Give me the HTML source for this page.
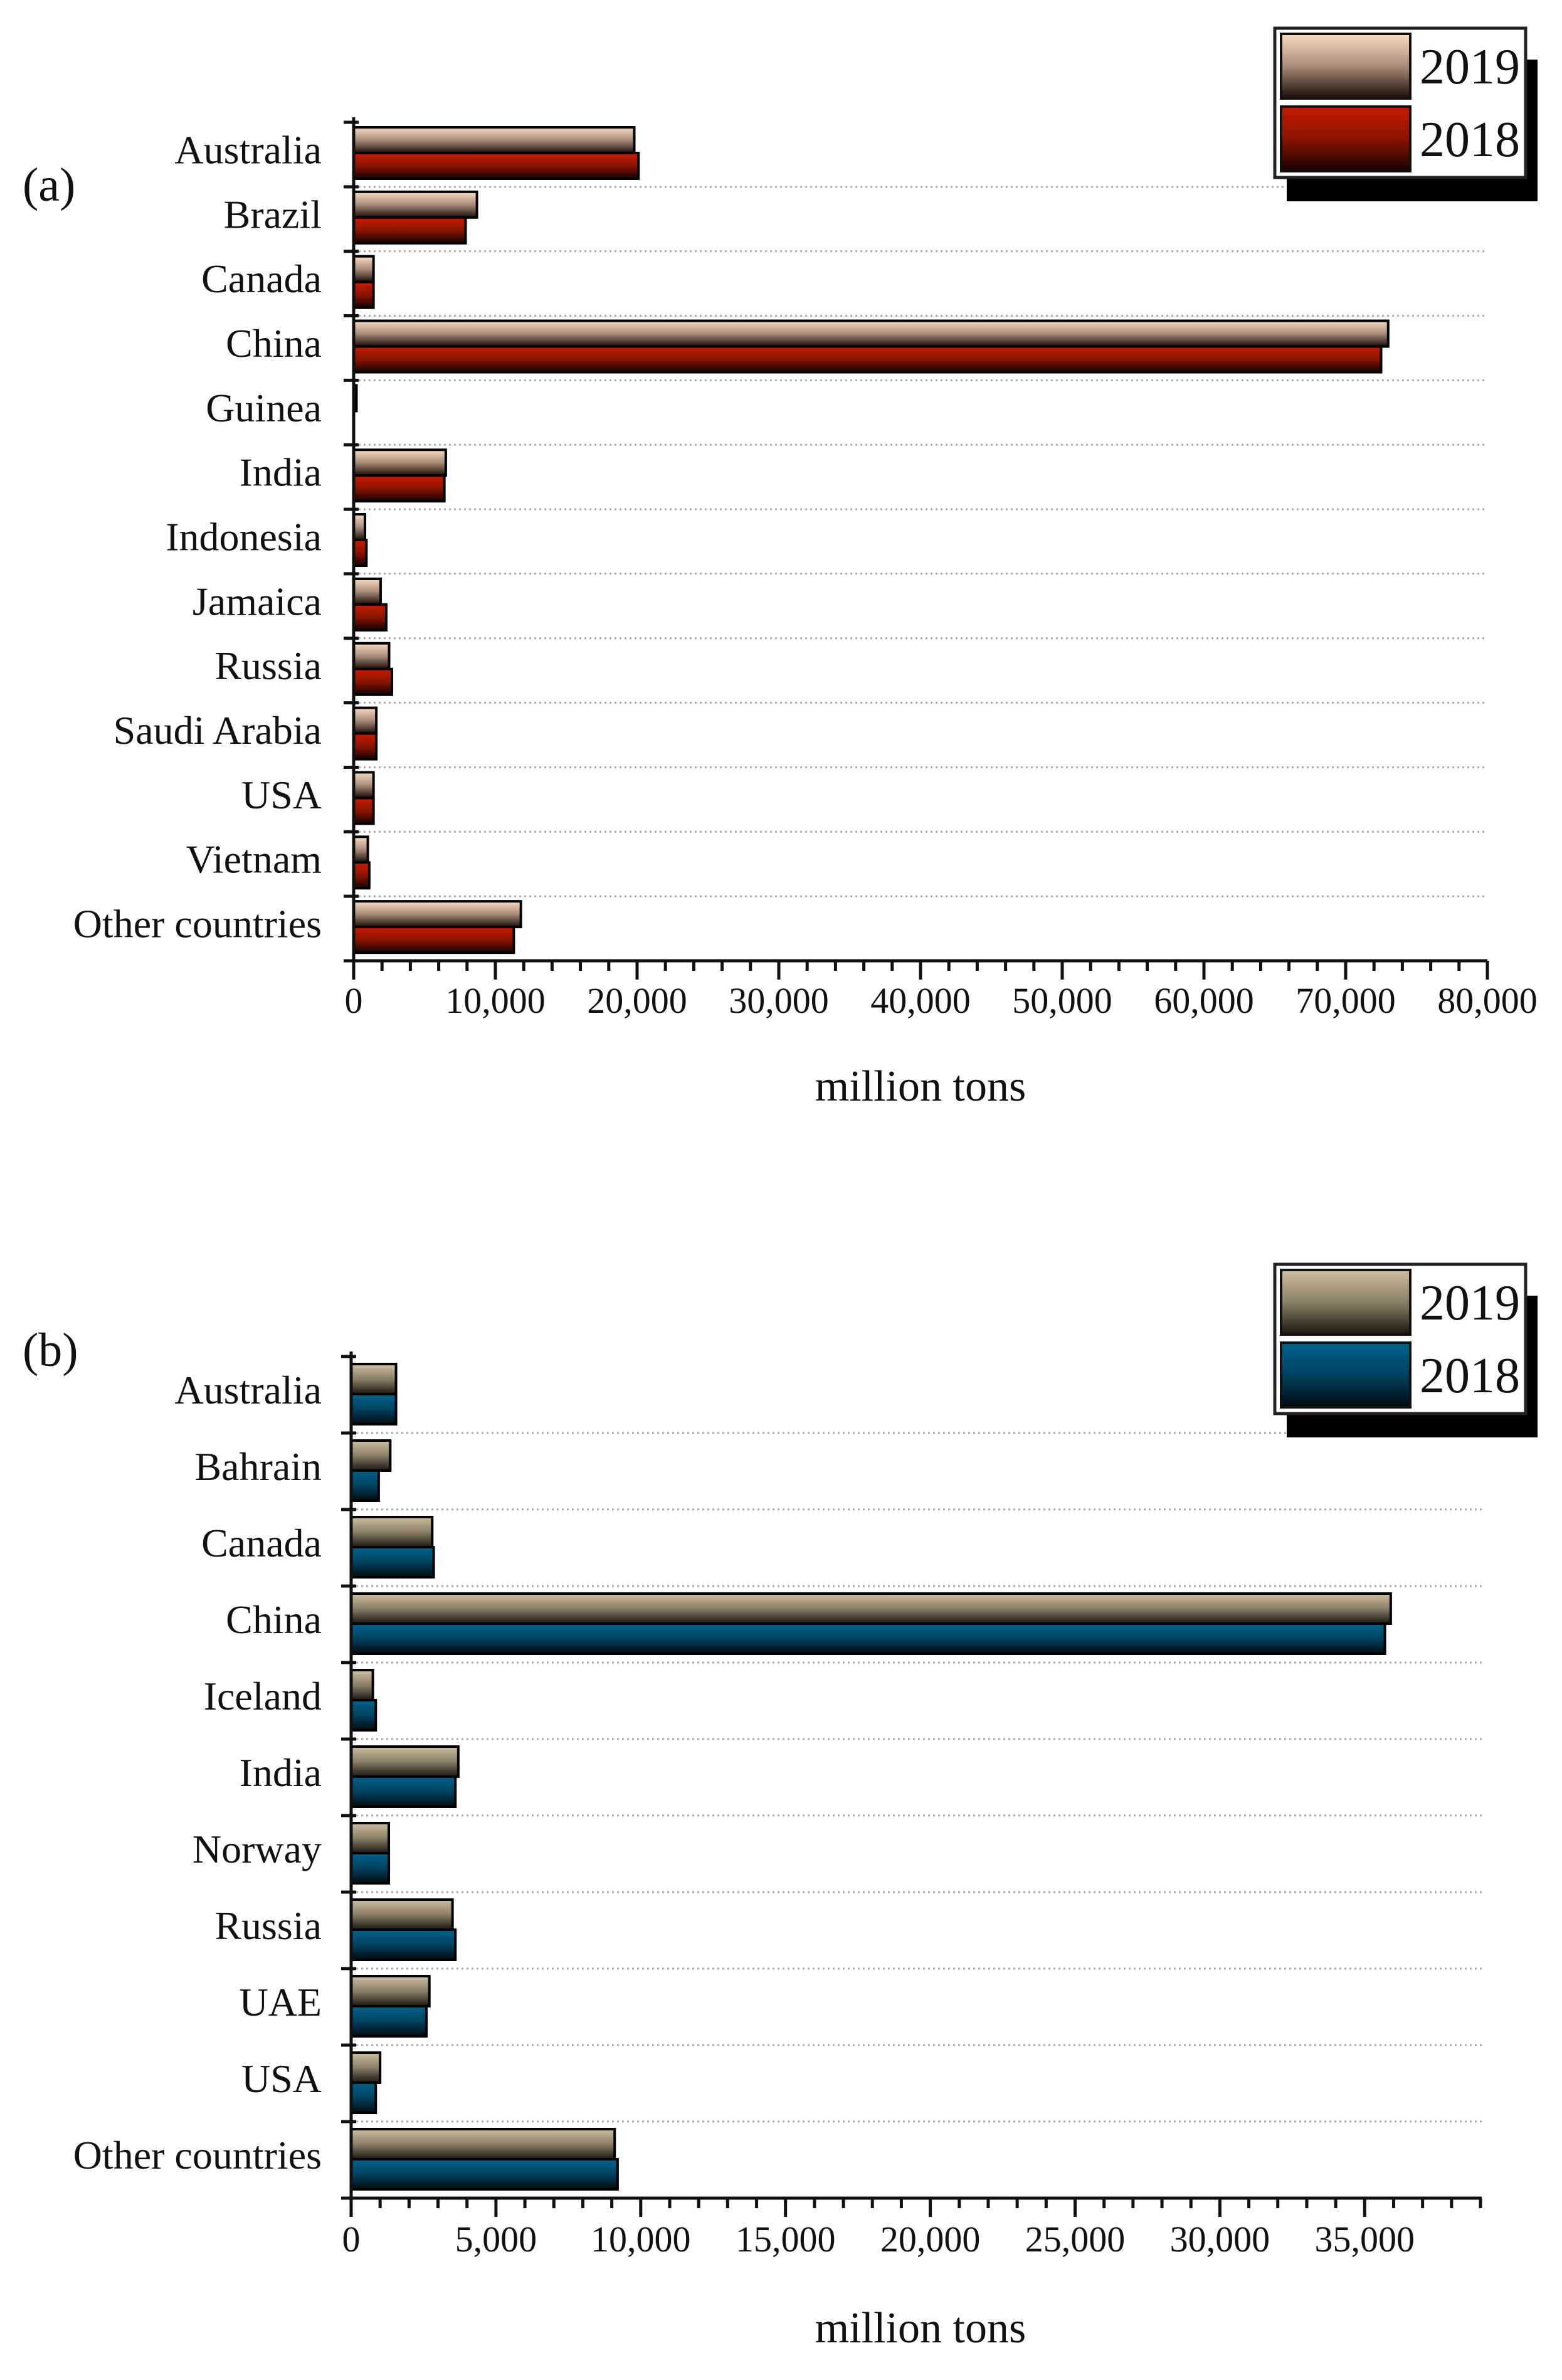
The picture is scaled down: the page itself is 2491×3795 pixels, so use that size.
<!DOCTYPE html>
<html><head><meta charset="utf-8">
<style>
html,body{margin:0;padding:0;background:#fff;}
svg{display:block;}
text{font-family:"Liberation Serif",serif;fill:#111;}
</style></head>
<body>
<svg id="chart" width="2491" height="3795" viewBox="0 0 2491 3795" xmlns="http://www.w3.org/2000/svg">
<defs>
<linearGradient id="gA19" x1="0" y1="0" x2="0" y2="1"><stop offset="0" stop-color="#fadbc2"/><stop offset="0.5" stop-color="#a88c7a"/><stop offset="1" stop-color="#1a0c06"/></linearGradient>
<linearGradient id="gA18" x1="0" y1="0" x2="0" y2="1"><stop offset="0" stop-color="#c81c00"/><stop offset="0.5" stop-color="#8a1400"/><stop offset="1" stop-color="#160200"/></linearGradient>
<linearGradient id="gB19" x1="0" y1="0" x2="0" y2="1"><stop offset="0" stop-color="#cdbf9f"/><stop offset="0.5" stop-color="#8a7e68"/><stop offset="1" stop-color="#1c160e"/></linearGradient>
<linearGradient id="gB18" x1="0" y1="0" x2="0" y2="1"><stop offset="0" stop-color="#00638d"/><stop offset="0.5" stop-color="#004260"/><stop offset="1" stop-color="#000a10"/></linearGradient>
</defs>
</svg>
<script>
// Panel (a) data
const catsA = ["Australia","Brazil","Canada","China","Guinea","India","Indonesia","Jamaica","Russia","Saudi Arabia","USA","Vietnam","Other countries"];
const valsA2019 = [19800,8700,1400,73000,200,6500,800,1900,2500,1600,1400,1000,11800];
const valsA2018 = [20100,7900,1400,72500,0,6400,900,2300,2700,1600,1400,1100,11300];
const ticksA = [0,10000,20000,30000,40000,50000,60000,70000,80000];
const tickLabelsA = ["0","10,000","20,000","30,000","40,000","50,000","60,000","70,000","80,000"];
// Panel (b) data
const catsB = ["Australia","Bahrain","Canada","China","Iceland","India","Norway","Russia","UAE","USA","Other countries"];
const valsB2019 = [1550,1350,2800,35900,750,3700,1300,3500,2700,1000,9100];
const valsB2018 = [1550,950,2850,35700,850,3600,1300,3600,2600,850,9200];
const ticksB = [0,5000,10000,15000,20000,25000,30000,35000];
const tickLabelsB = ["0","5,000","10,000","15,000","20,000","25,000","30,000","35,000"];

const svg = document.getElementById('chart');
const NS = "http://www.w3.org/2000/svg";
function mk(tag, attrs, parent){
  const e = document.createElementNS(NS, tag);
  for (const k in attrs) e.setAttribute(k, attrs[k]);
  (parent||svg).appendChild(e);
  return e;
}

function panel(o){
  const g = mk('g', {});
  
  
  const x = v => o.x0 + v * o.pxPer;
  const n = o.cats.length;
  const band = (o.yBot - o.yTop) / n;
  for (let i = 1; i < n; i++) {
    const y = o.yTop + i * band;
    const gl = mk('line', {x1:o.x0, x2:o.xEnd, y1:y, y2:y, stroke:'#aaa', 'stroke-width':3, 'stroke-dasharray':'3 5'}, g);
    
    
  }
  for (let i = 0; i < n; i++) {
    const yb = o.yTop + i * band + o.pad;
    const b1 = mk('rect', {x:o.x0, y:yb, width:Math.max(x(o.v19[i]) - o.x0, 0), height:o.bh, fill:o.g19, stroke:'#000', 'stroke-width':4}, g);
    
    
    const b2 = mk('rect', {x:o.x0, y:yb + o.bh, width:Math.max(x(o.v18[i]) - o.x0, 0), height:o.bh, fill:o.g18, stroke:'#000', 'stroke-width':4}, g);
    
    
    const t = mk('text', {x:513, y:o.yTop + (i + 0.5) * band + 14, 'text-anchor':'end', 'font-size':64}, g);
    t.textContent = o.cats[i];
    
    
  }
  const ya = mk('line', {x1:o.x0, x2:o.x0, y1:o.yTop - 8, y2:o.yBot, stroke:'#111', 'stroke-width':5}, g);
  
  
  for (let i = 0; i <= n; i++) {
    const y = o.yTop + i * band;
    mk('line', {x1:o.x0 - 16, x2:o.x0 + 8, y1:y, y2:y, stroke:'#111', 'stroke-width':5}, g);
  }
  const xa = mk('line', {x1:o.x0 - 16, x2:o.xEnd, y1:o.yBot, y2:o.yBot, stroke:'#111', 'stroke-width':5}, g);
  
  
  for (let v = 0; x(v) <= o.xEnd + 1; v += o.minor) {
    const major = o.ticks.indexOf(v) >= 0;
    mk('line', {x1:x(v), x2:x(v), y1:o.yBot, y2:o.yBot + (major ? 30 : 16), stroke:'#111', 'stroke-width':5}, g);
  }
  o.ticks.forEach((v, i) => {
    const t = mk('text', {x:x(v), y:o.tickY, 'text-anchor':'middle', 'font-size':58}, g);
    t.textContent = o.tickLabels[i];
    
    
  });
  const xt = mk('text', {x:1468, y:o.titleY, 'text-anchor':'middle', 'font-size':70}, g);
  xt.textContent = 'million tons';
  
  
  const pl = mk('text', {x:36, y:o.panelY, 'font-size':76}, g);
  pl.textContent = o.label;
  
  
  const L = o.leg;
  const lg = mk('g', {}, g);
  
  
  mk('rect', {x:2052, y:L + 50, width:400, height:226, fill:'#000'}, lg);
  mk('rect', {x:2033, y:L, width:400, height:238, fill:'#fff', stroke:'#222', 'stroke-width':5}, lg);
  const s1 = mk('rect', {x:2043, y:L + 9, width:206, height:103, fill:o.g19, stroke:'#111', 'stroke-width':4}, lg);
  
  
  const s2 = mk('rect', {x:2043, y:L + 125, width:206, height:103, fill:o.g18, stroke:'#111', 'stroke-width':4}, lg);
  
  
  const t1 = mk('text', {x:2264, y:L + 88, 'font-size':80}, lg);
  t1.textContent = '2019';
  
  
  const t2 = mk('text', {x:2264, y:L + 204, 'font-size':80}, lg);
  t2.textContent = '2018';
  
  
}

panel({name:'chart-a-bauxite', label:'(a)', cats:catsA, v19:valsA2019, v18:valsA2018, ticks:ticksA, tickLabels:tickLabelsA,
  x0:564, pxPer:(2372-564)/80000, xEnd:2372, yTop:195, yBot:1532, pad:8, bh:41, minor:2000,
  tickY:1615, titleY:1755, panelY:320, g19:'url(#gA19)', g18:'url(#gA18)', leg:45});
panel({name:'chart-b-aluminium', label:'(b)', cats:catsB, v19:valsB2019, v18:valsB2018, ticks:ticksB, tickLabels:tickLabelsB,
  x0:560, pxPer:230.9/5000, xEnd:2363, yTop:2163, yBot:3505, pad:12, bh:48, minor:1000,
  tickY:3590, titleY:3735, panelY:2178, g19:'url(#gB19)', g18:'url(#gB18)', leg:2016});
</script>
</body></html>
